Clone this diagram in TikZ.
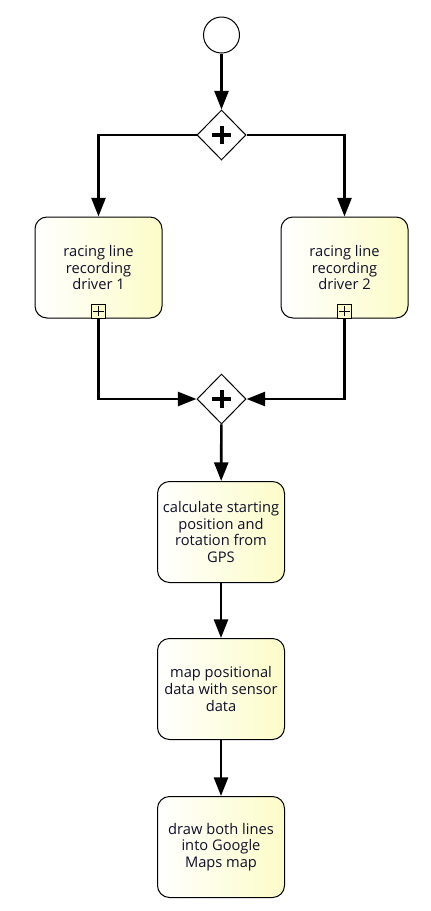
\documentclass[tikz,border=0pt]{standalone}
\usepackage{fontspec}
\setmainfont{Open Sans}
\usepackage{tikz}
\usetikzlibrary{shapes.geometric,arrows.meta}

\definecolor{textblau}{RGB}{15,15,40}
\definecolor{aufgabengelb}{RGB}{252,252,200}

\tikzset{
  aufgabe/.style={draw, rounded corners=9pt, minimum width=95.25pt, minimum height=75.75pt,
    inner sep=1pt, align=center, font=\fontsize{11}{12.4}\selectfont, text=textblau,
    left color=white, right color=aufgabengelb, line width=0.75pt},
  gateway/.style={draw, diamond, fill=white, minimum width=36.75pt, minimum height=37.5pt,
    inner sep=0pt, line width=0.75pt,
    path picture={\draw[line width=3pt] ([xshift=-7pt]path picture bounding box.center) -- ++(14pt,0)
      ([yshift=-7pt]path picture bounding box.center) -- ++(0,14pt);}},
  startevent/.style={draw, circle, minimum size=27pt, inner sep=0pt, fill=white, line width=0.75pt},
  teilprozess/.style={draw, fill=aufgabengelb, minimum size=10.5pt, inner sep=0pt, line width=0.75pt,
    path picture={\draw[line width=0.7pt] ([xshift=-4pt]path picture bounding box.center) -- ++(8pt,0)
      ([yshift=-4pt]path picture bounding box.center) -- ++(0,8pt);}},
  fluss/.style={line width=2pt, -{Triangle[length=14pt, width=10.5pt]}}
}

\begin{document}
\begin{tikzpicture}[x=0.75pt, y=-0.75pt] % Pixelraster wie im Bild
  \useasboundingbox (0,0) rectangle (431,911);

  % Start und erstes Gateway
  \node[startevent] (start) at (221.5,35) {};
  \node[gateway] (gwsplit) at (221.5,135) {};

  % Zwei parallele Teilprozesse
  \node[aufgabe] (fahrer1) at (98.5,267.5) {racing line\\recording\\driver 1};
  \node[aufgabe] (fahrer2) at (344.5,267.5) {racing line\\recording\\driver 2};
  \node[teilprozess, anchor=south] (mark1) at (fahrer1.south) {};
  \node[teilprozess, anchor=south] (mark2) at (fahrer2.south) {};

  % Zusammenführung
  \node[gateway] (gwjoin) at (221.5,399) {};

  % Restliche Aufgaben untereinander
  \node[aufgabe] (startpos) at (221,532) {calculate starting\\position and\\rotation from\\GPS};
  \node[aufgabe] (mapping) at (221,689) {map positional\\data with sensor\\data};
  \node[aufgabe] (zeichnen) at (221,847) {draw both lines\\into Google\\Maps map};

  % Verbindungen
  \draw[fluss] (start) -- (gwsplit);
  \draw[fluss] (gwsplit.west) -| (fahrer1.north);
  \draw[fluss] (gwsplit.east) -| (fahrer2.north);
  \draw[fluss] (mark1.south) |- (gwjoin.west);
  \draw[fluss] (mark2.south) |- (gwjoin.east);
  \draw[fluss] (gwjoin) -- (startpos);
  \draw[fluss] (startpos) -- (mapping);
  \draw[fluss] (mapping) -- (zeichnen);
\end{tikzpicture}
\end{document}
